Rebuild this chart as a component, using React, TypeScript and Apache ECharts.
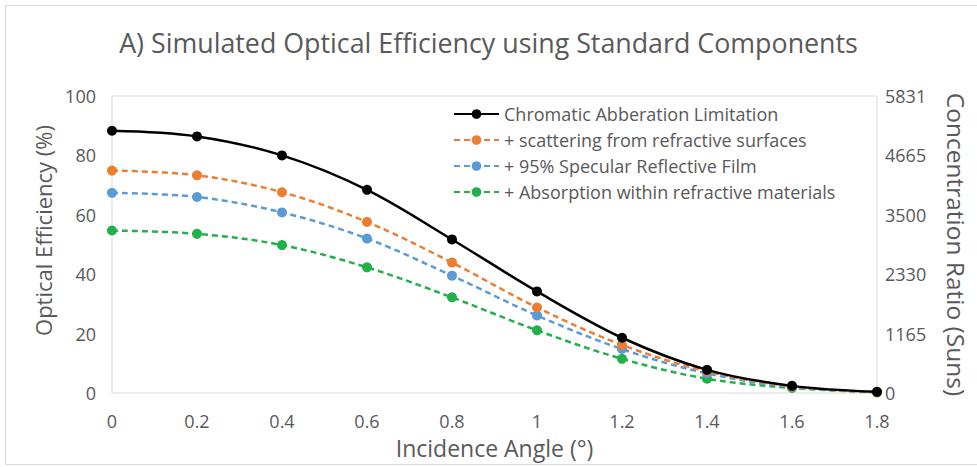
import React, { useEffect, useRef } from "react";
import * as echarts from "echarts";

const angles = [0, 0.2, 0.4, 0.6, 0.8, 1.0, 1.2, 1.4, 1.6, 1.8];
const chromatic = [88.3, 86.4, 80.0, 68.4, 51.7, 34.2, 18.6, 7.8, 2.4, 0.4];
const scattering = [74.9, 73.3, 67.6, 57.6, 43.9, 28.8, 16.2, 7.3, 2.2, 0.3];
const reflective = [67.4, 66.0, 60.8, 52.0, 39.5, 26.1, 14.8, 6.6, 2.0, 0.3];
const absorption = [54.7, 53.6, 49.8, 42.3, 32.2, 21.1, 11.5, 4.8, 1.7, 0.2];
const rightTicks = ["0", "1165", "2330", "3500", "4665", "5831"];
const seriesNames = [
  "Chromatic Abberation Limitation",
  "+ scattering from refractive surfaces",
  "+ 95% Specular Reflective Film",
  "+ Absorption within refractive materials",
];
const colors = ["#000000", "#ED7D31", "#5B9BD5", "#22B04A"];

const FONT = "'Open Sans', sans-serif";
const GRAY = "#595959";

export default function App() {
  const ref = useRef<HTMLDivElement>(null);
  useEffect(() => {
    if (!ref.current) return;
    const chart = echarts.init(ref.current, undefined, { renderer: "svg" });
    const datasets = [chromatic, scattering, reflective, absorption];
    chart.setOption({
      animation: false,
      backgroundColor: "#ffffff",
      title: {
        text: "A) Simulated Optical Efficiency using Standard Components",
        left: "center",
        top: 24,
        textStyle: { fontFamily: FONT, fontSize: 26.8, fontWeight: "normal", color: GRAY },
      },
      graphic: [
        {
          type: "rect",
          shape: { x: 5.5, y: 5.5, width: 975, height: 459 },
          style: { fill: "none", stroke: "#d9d9d9", lineWidth: 1 },
          silent: true,
        },
      ],
      legend: {
        orient: "vertical",
        left: 448,
        top: 101,
        backgroundColor: "#ffffff",
        padding: [3, 5, 3, 5],
        itemWidth: 45,
        itemHeight: 12,
        itemGap: 6,
        textStyle: { fontFamily: FONT, fontSize: 18, color: GRAY, lineHeight: 20 },
        data: seriesNames,
      },
      grid: {
        left: 112,
        right: 96,
        top: 96,
        bottom: 74,
        show: true,
        borderColor: "#d9d9d9",
        borderWidth: 1,
      },
      xAxis: {
        type: "value",
        min: 0,
        max: 1.8,
        interval: 0.2,
        name: "Incidence Angle (°)",
        nameLocation: "middle",
        nameGap: 43,
        nameTextStyle: { fontFamily: FONT, fontSize: 23, color: GRAY },
        axisLine: { show: false },
        axisTick: { show: false },
        splitLine: { show: false },
        axisLabel: {
          fontFamily: FONT,
          fontSize: 18,
          color: GRAY,
          margin: 19,
          formatter: (v: number) => String(Math.round(v * 10) / 10),
        },
      },
      yAxis: [
        {
          type: "value",
          min: 0,
          max: 100,
          interval: 20,
          name: "Optical Efficiency (%)",
          nameLocation: "middle",
          nameGap: 58,
          nameTextStyle: { fontFamily: FONT, fontSize: 22, color: GRAY, padding: [0, 0, 0, 28] },
          axisLine: { show: false },
          axisTick: { show: false },
          splitLine: { show: false },
          axisLabel: { fontFamily: FONT, fontSize: 18, color: GRAY, margin: 16 },
        },
        {
          type: "value",
          position: "right",
          min: 0,
          max: 100,
          interval: 20,
          name: "Concentration Ratio (Suns)",
          nameLocation: "middle",
          nameRotate: -90,
          nameGap: 67,
          nameTextStyle: { fontFamily: FONT, fontSize: 24.5, color: GRAY },
          axisLine: { show: false },
          axisTick: { show: false },
          splitLine: { show: false },
          axisLabel: {
            fontFamily: FONT,
            fontSize: 18,
            color: GRAY,
            margin: 8,
            formatter: (v: number) => rightTicks[Math.round(v / 20)] ?? "",
          },
        },
      ],
      series: datasets.map((d, i) => ({
        name: seriesNames[i],
        type: "line",
        yAxisIndex: 0,
        smooth: 0.35,
        symbol: "circle",
        symbolSize: 10,
        data: angles.map((a, j) => [a, d[j]]),
        itemStyle: { color: colors[i] },
        lineStyle: {
          color: colors[i],
          width: 2.5,
          type: i === 0 ? "solid" : [6, 4],
        },
        z: 10 - i,
      })),
    });
    return () => chart.dispose();
  }, []);
  return (
    <div
      ref={ref}
      style={{ position: "absolute", left: 0, top: 0, width: 977, height: 467 }}
    />
  );
}
